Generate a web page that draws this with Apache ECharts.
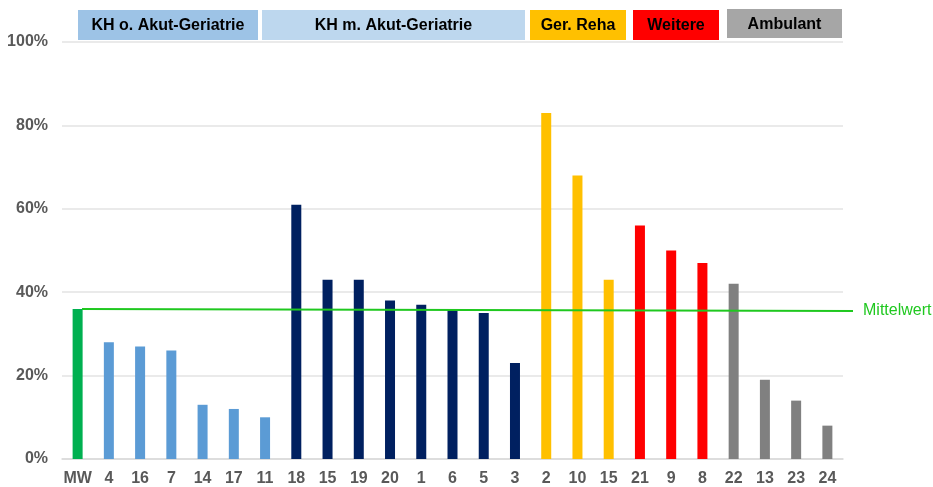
<!DOCTYPE html>
<html>
<head>
<meta charset="utf-8">
<script src="https://cdn.jsdelivr.net/npm/echarts@6/dist/echarts.min.js"></script>
<style>
html,body{margin:0;padding:0;background:#fff;}
#chart{width:933px;height:487px;}
</style>
</head>
<body>
<div id="chart"></div>
<script>
// ---- data ----
var categories = ['MW','4','16','7','14','17','11','18','15','19','20','1','6','5','3','2','10','15','21','9','8','22','13','23','24'];
var values     = [36, 28, 27, 26, 13, 12, 10, 61, 43, 43, 38, 37, 36, 35, 23, 83, 68, 43, 56, 50, 47, 42, 19, 14, 8];
var groups     = ['mw','o','o','o','o','o','o','m','m','m','m','m','m','m','m','reha','reha','reha','weit','weit','weit','amb','amb','amb','amb'];
var yTicks     = [0, 20, 40, 60, 80, 100];
var meanLabel  = 'Mittelwert';
var meanX      = [0.64, 25.32];
var meanY      = [36, 35.5];
var headerLabels = ['KH o. Akut-Geriatrie','KH m. Akut-Geriatrie','Ger. Reha','Weitere','Ambulant'];

// ---- styles ----
var groupColors = {mw:'#00b050', o:'#5b9bd5', m:'#002060', reha:'#ffc000', weit:'#ff0000', amb:'#808080'};
var headerBoxes = [
  {x:78,  y:10, w:180, h:30, fill:'#9dc3e6'},
  {x:262, y:10, w:263, h:30, fill:'#bdd7ee'},
  {x:530, y:10, w:96,  h:30, fill:'#ffc000'},
  {x:633, y:10, w:86,  h:30, fill:'#ff0000'},
  {x:727, y:9,  w:115, h:29, fill:'#a6a6a6'}
];
var font = '"Liberation Sans", Arial, sans-serif';
var lineGreen = '#1fc81f';

var graphics = [];
headerBoxes.forEach(function(b, i){
  graphics.push({type:'rect', shape:{x:b.x, y:b.y, width:b.w, height:b.h}, style:{fill:b.fill}, silent:true});
  graphics.push({type:'text', x:b.x + b.w/2, y:b.y + b.h/2 + 1,
    style:{text:headerLabels[i], fill:'#000', font:'bold 16px ' + font, textAlign:'center', textVerticalAlign:'middle'}, silent:true});
});

var chart = echarts.init(document.getElementById('chart'), null, {renderer:'canvas'});
chart.setOption({
  animation:false,
  backgroundColor:'#fff',
  grid:[
    {left:62, right:90, top:42, bottom:28, containLabel:false},
    {left:62, right:80, top:42, bottom:28, containLabel:false}
  ],
  xAxis:[
    {type:'category', gridIndex:0, data:categories,
     axisTick:{show:false},
     axisLine:{lineStyle:{color:'#d9d9d9', width:1.5}},
     axisLabel:{interval:0, color:'#595959', fontWeight:'bold', fontSize:16, fontFamily:font, margin:12}},
    {type:'value', gridIndex:1, min:0, max:25.32, show:false}
  ],
  yAxis:[
    {type:'value', gridIndex:0, min:yTicks[0], max:yTicks[yTicks.length-1], interval:yTicks[1]-yTicks[0],
     axisLine:{show:false}, axisTick:{show:false},
     splitLine:{lineStyle:{color:'#e3e3e3', width:1.5}},
     axisLabel:{formatter:'{value}%', color:'#595959', fontWeight:'bold', fontSize:16, fontFamily:font, margin:14}},
    {type:'value', gridIndex:1, min:yTicks[0], max:yTicks[yTicks.length-1], show:false}
  ],
  series:[
    {type:'bar', barWidth:10, xAxisIndex:0, yAxisIndex:0,
     data: values.map(function(v,i){ return {value:v, itemStyle:{color:groupColors[groups[i]]}}; })},
    {type:'line', xAxisIndex:1, yAxisIndex:1, clip:false, symbol:'none', z:5,
     data: meanX.map(function(x,i){ return [x, meanY[i]]; }),
     lineStyle:{color:lineGreen, width:2},
     endLabel:{show:true, formatter:meanLabel, color:lineGreen, fontSize:16, fontFamily:font, distance:10}}
  ],
  graphic: graphics
});
</script>
</body>
</html>
